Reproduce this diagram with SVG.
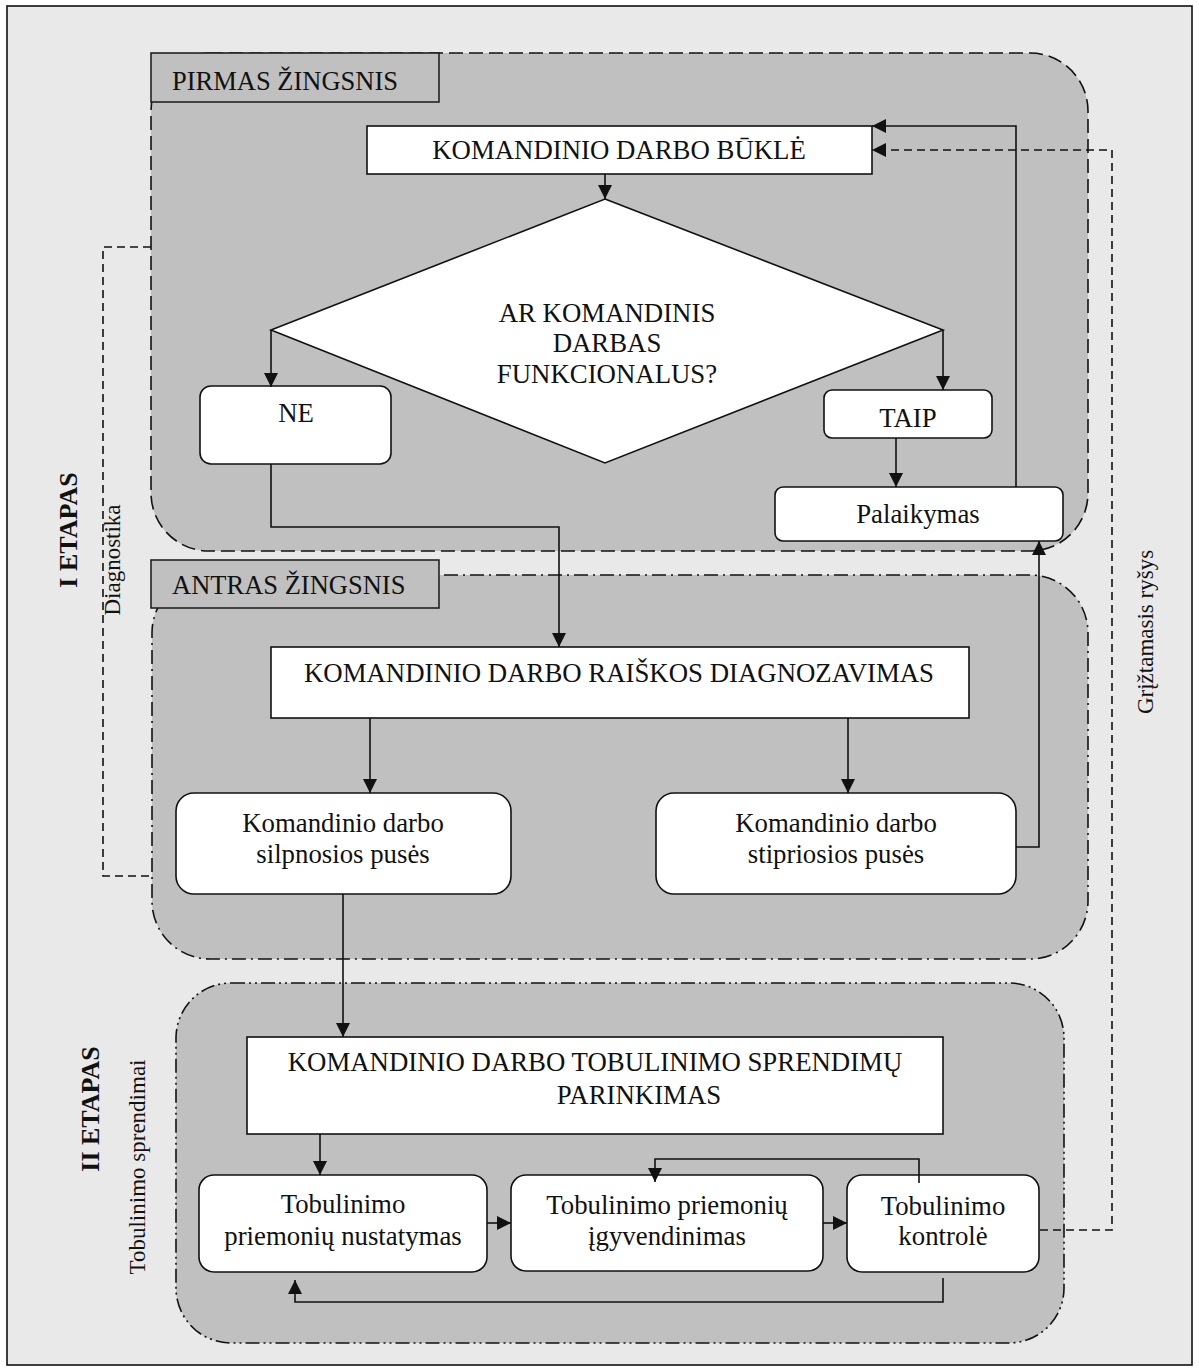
<svg xmlns="http://www.w3.org/2000/svg" width="1199" height="1371" viewBox="0 0 1199 1371" font-family="Liberation Serif, Times New Roman, serif">
  <style>
    text { font-family: "Liberation Serif", "Times New Roman", serif; fill: #111; }
    .t { font-size: 26.8px; text-anchor: middle; }
    .lbl { font-size: 26.5px; }
    .side { font-size: 23px; text-anchor: middle; }
    .etapas { font-size: 26px; font-weight: bold; text-anchor: middle; }
    .panel { fill: #c0c0c0; stroke: #111; stroke-width: 1.6; }
    .p1 { stroke-dasharray: 14 6; }
    .p2 { stroke-dasharray: 14 5 2 5; }
    .p3 { stroke-dasharray: 14 4 2 4 2 4; }
    .tab { fill: #c0c0c0; stroke: #222; stroke-width: 1.6; }
    .box { fill: #fff; stroke: #111; stroke-width: 1.6; }
    .ln { fill: none; stroke: #111; stroke-width: 1.6; }
    .dash { fill: none; stroke: #111; stroke-width: 1.6; stroke-dasharray: 8 5; }
  </style>
  <defs>
    <marker id="ah" viewBox="0 0 10 10" refX="10" refY="5" markerWidth="15" markerHeight="14" markerUnits="userSpaceOnUse" orient="auto">
      <path d="M0,0 L10,5 L0,10 z" fill="#111"/>
    </marker>
  </defs>

  <!-- frame -->
  <rect x="7" y="6" width="1185" height="1359" fill="#e9e9e9" stroke="#111" stroke-width="1.6"/>

  <!-- stage panels -->
  <g id="panel-1">
    <rect class="panel p1" x="151" y="53" width="937" height="498" rx="58" ry="58"/>
    <rect class="tab" x="151" y="53" width="288" height="49"/>
    <text class="lbl" x="172" y="90">PIRMAS ŽINGSNIS</text>
  </g>
  <g id="panel-2">
    <rect class="panel p2" x="152" y="575" width="936" height="384" rx="58" ry="58"/>
    <rect class="tab" x="151" y="560" width="288" height="48"/>
    <text class="lbl" x="172" y="594">ANTRAS ŽINGSNIS</text>
  </g>
  <g id="panel-3">
    <rect class="panel p3" x="176" y="983" width="888" height="360" rx="55" ry="55"/>
  </g>

  <!-- side labels -->
  <g id="side-labels">
    <text class="etapas" transform="translate(77,530) rotate(-90)">I ETAPAS</text>
    <text class="side" transform="translate(120,560) rotate(-90)">Diagnostika</text>
    <text class="etapas" transform="translate(99,1109) rotate(-90)">II ETAPAS</text>
    <text class="side" transform="translate(145,1167) rotate(-90)">Tobulinimo sprendimai</text>
    <text class="side" transform="translate(1153,632) rotate(-90)">Grįžtamasis ryšys</text>
  </g>

  <!-- nodes -->
  <g id="n-bukle">
    <rect class="box" x="367" y="126" width="505" height="48"/>
    <text class="t" x="619" y="159">KOMANDINIO DARBO BŪKLĖ</text>
  </g>
  <g id="n-decision">
    <polygon class="box" points="605,199 943,330 605,463 271,330"/>
    <text class="t" x="607" y="322">AR KOMANDINIS</text>
    <text class="t" x="607" y="352">DARBAS</text>
    <text class="t" x="607" y="383">FUNKCIONALUS?</text>
  </g>
  <g id="n-ne">
    <rect class="box" x="200" y="386" width="191" height="78" rx="11"/>
    <text class="t" x="296" y="422">NE</text>
  </g>
  <g id="n-taip">
    <rect class="box" x="824" y="390" width="168" height="48" rx="8"/>
    <text class="t" x="908" y="427">TAIP</text>
  </g>
  <g id="n-palaikymas">
    <rect class="box" x="775" y="487" width="288" height="54" rx="8"/>
    <text class="t" x="918" y="523">Palaikymas</text>
  </g>
  <g id="n-raiskos">
    <rect class="box" x="271" y="647" width="698" height="71"/>
    <text class="t" x="619" y="682">KOMANDINIO DARBO RAIŠKOS DIAGNOZAVIMAS</text>
  </g>
  <g id="n-silpnosios">
    <rect class="box" x="176" y="793" width="335" height="101" rx="18"/>
    <text class="t" x="343" y="832">Komandinio darbo</text>
    <text class="t" x="343" y="863">silpnosios pusės</text>
  </g>
  <g id="n-stipriosios">
    <rect class="box" x="656" y="793" width="360" height="101" rx="18"/>
    <text class="t" x="836" y="832">Komandinio darbo</text>
    <text class="t" x="836" y="863">stipriosios pusės</text>
  </g>
  <g id="n-sprendimu">
    <rect class="box" x="247" y="1037" width="696" height="97"/>
    <text class="t" x="595" y="1071">KOMANDINIO DARBO TOBULINIMO SPRENDIMŲ</text>
    <text class="t" x="639" y="1104">PARINKIMAS</text>
  </g>
  <g id="n-nustatymas">
    <rect class="box" x="199" y="1175" width="288" height="97" rx="15"/>
    <text class="t" x="343" y="1213">Tobulinimo</text>
    <text class="t" x="343" y="1245">priemonių nustatymas</text>
  </g>
  <g id="n-igyvendinimas">
    <rect class="box" x="511" y="1175" width="312" height="96" rx="15"/>
    <text class="t" x="667" y="1214">Tobulinimo priemonių</text>
    <text class="t" x="667" y="1245">įgyvendinimas</text>
  </g>
  <g id="n-kontrole">
    <rect class="box" x="847" y="1175" width="192" height="97" rx="15"/>
    <text class="t" x="943" y="1215">Tobulinimo</text>
    <text class="t" x="943" y="1245">kontrolė</text>
  </g>

  <!-- connectors -->
  <g id="connectors">
    <path class="ln" d="M605,174 V199" marker-end="url(#ah)"/>
    <path class="ln" d="M271,330 V387" marker-end="url(#ah)"/>
    <path class="ln" d="M943,330 V390" marker-end="url(#ah)"/>
    <path class="ln" d="M896,438 V487" marker-end="url(#ah)"/>
    <path class="ln" d="M1016,487 V126 H872" marker-end="url(#ah)"/>
    <path class="ln" d="M271,464 V527 H559 V647" marker-end="url(#ah)"/>
    <path class="ln" d="M370,718 V793" marker-end="url(#ah)"/>
    <path class="ln" d="M848,718 V793" marker-end="url(#ah)"/>
    <path class="ln" d="M1016,847 H1039 V541" marker-end="url(#ah)"/>
    <path class="ln" d="M343,894 V1037" marker-end="url(#ah)"/>
    <path class="ln" d="M320,1134 V1175" marker-end="url(#ah)"/>
    <path class="ln" d="M487,1223 H511" marker-end="url(#ah)"/>
    <path class="ln" d="M823,1223 H847" marker-end="url(#ah)"/>
    <path class="ln" d="M919,1183 V1159 H655 V1182" marker-end="url(#ah)"/>
    <path class="ln" d="M943,1278 V1302 H295 V1280" marker-end="url(#ah)"/>
    <path class="dash" d="M1040,1230 H1112 V150 H872" marker-end="url(#ah)"/>
    <path class="dash" d="M151,247 H103 V876 H151"/>
  </g>
</svg>
